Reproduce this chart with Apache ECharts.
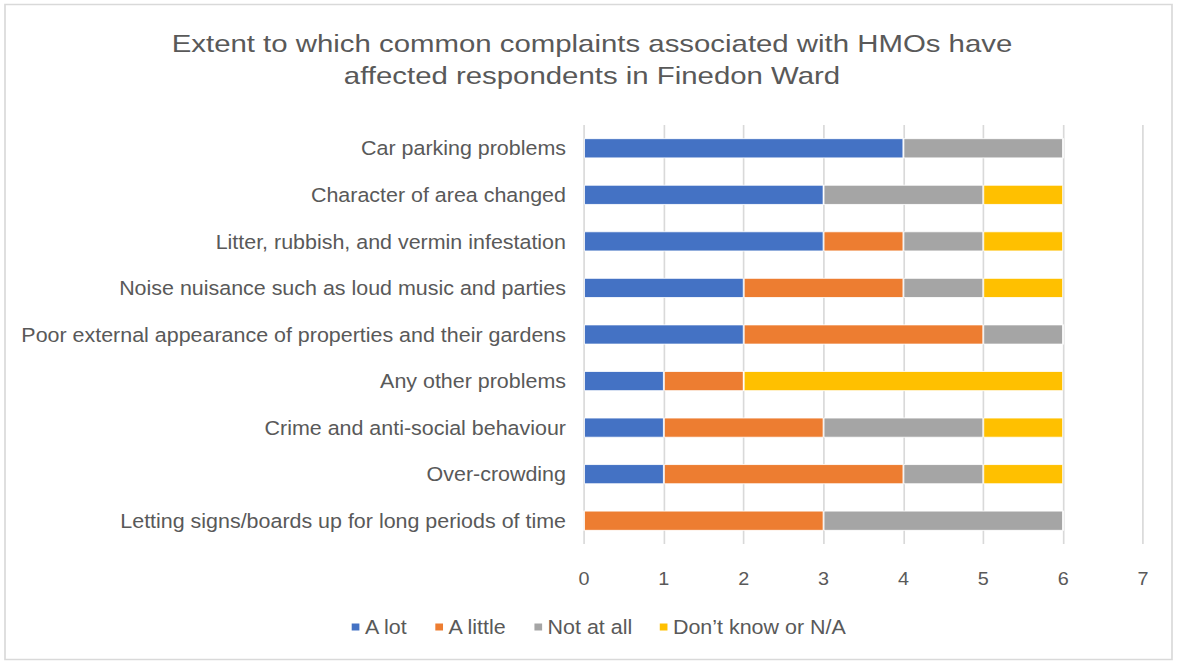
<!DOCTYPE html>
<html><head><meta charset="utf-8">
<script src="https://cdn.jsdelivr.net/npm/echarts@6/dist/echarts.min.js"></script>
<style>html,body{margin:0;padding:0;background:#fff;overflow:hidden}
#c{width:1070px;height:661px;transform:scaleX(1.1);transform-origin:0 0}</style>
</head><body><div id="c"></div>
<script>
const categories = [
  "Car parking problems",
  "Character of area changed",
  "Litter, rubbish, and vermin infestation",
  "Noise nuisance such as loud music and parties",
  "Poor external appearance of properties and their gardens",
  "Any other problems",
  "Crime and anti-social behaviour",
  "Over-crowding",
  "Letting signs/boards up for long periods of time"
];
const aLot      = [4, 3, 3, 2, 2, 1, 1, 1, 0];
const aLittle   = [0, 0, 1, 2, 3, 1, 2, 3, 3];
const notAtAll  = [2, 2, 1, 1, 1, 0, 2, 1, 3];
const dontKnow  = [0, 1, 1, 1, 0, 4, 1, 1, 0];
const xTicks = [0, 1, 2, 3, 4, 5, 6, 7];
const titleText = 'Extent to which common complaints associated with HMOs have\naffected respondents in Finedon Ward';

const SX = 1.1;
const font = '"Liberation Sans", Arial, sans-serif';
const chart = echarts.init(document.getElementById('c'), null, { renderer: 'svg' });
function s(name, data, color) {
  return { name, type: 'bar', stack: 'total', data, barCategoryGap: '57%',
    itemStyle: { color, borderColor: '#fff', borderWidth: 0.8 } };
}
chart.setOption({
  animation: false,
  legend: { bottom: 19, left: 344 / SX, itemWidth: 9, itemHeight: 9, itemGap: 23, icon: 'rect',
    textStyle: { fontFamily: font, fontSize: 19.5, color: '#595959', padding: [0, 0, 0, -1] } },
  grid: { left: 584 / SX, right: 34 / SX, top: 125, bottom: 117 },
  xAxis: { type: 'value', min: 0, max: 7, interval: 1,
    axisLine: { show: false }, axisTick: { show: false },
    splitLine: { lineStyle: { color: '#d9d9d9', width: 1.5 } },
    axisLabel: { fontFamily: font, fontSize: 18, color: '#595959', margin: 26,
      formatter: v => xTicks.includes(v) ? String(v) : '' } },
  yAxis: { type: 'category', data: categories, inverse: true,
    axisLine: { show: false }, axisTick: { show: false },
    axisLabel: { fontFamily: font, fontSize: 19.5, color: '#595959', margin: 16.4 } },
  graphic: [
    { type: 'rect', shape: { x: 5 / SX, y: 4.5, width: 1167 / SX, height: 655 },
      style: { fill: 'none', stroke: '#d9d9d9', lineWidth: 1.5 }, silent: true },
    { type: 'text', x: 592 / SX, y: 28, scaleX: 1.113, silent: true,
      style: { text: titleText, fontFamily: font, fontSize: 24, fill: '#595959',
        textAlign: 'center', textVerticalAlign: 'top', lineHeight: 32 } }
  ],
  series: [
    s('A lot', aLot, '#4472c4'),
    s('A little', aLittle, '#ed7d31'),
    s('Not at all', notAtAll, '#a5a5a5'),
    s('Don\u2019t know or N/A', dontKnow, '#ffc000')
  ]
});
</script></body></html>
